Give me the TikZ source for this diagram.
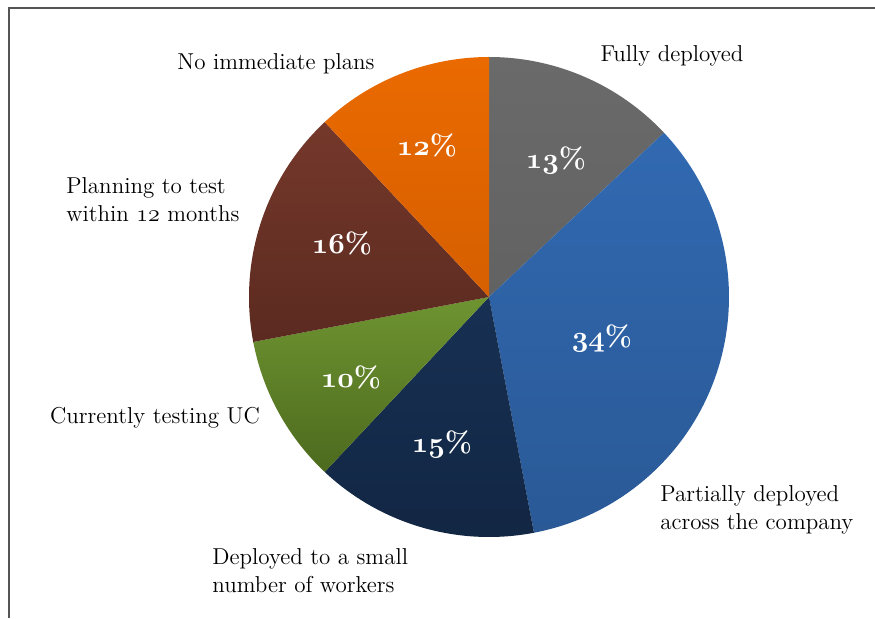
\documentclass[tikz,border=0pt]{standalone}
\definecolor{cgray}{HTML}{6A6A6A}
\definecolor{cgrayb}{HTML}{626262}
\definecolor{cblue}{HTML}{3169B1}
\definecolor{cblueb}{HTML}{2A5996}
\definecolor{cnavy}{HTML}{173053}
\definecolor{cnavyb}{HTML}{122643}
\definecolor{cgreen}{HTML}{6E9431}
\definecolor{cgreenb}{HTML}{4D6A1E}
\definecolor{cbrown}{HTML}{75382B}
\definecolor{cbrownb}{HTML}{5B2A20}
\definecolor{corange}{HTML}{EA6A00}
\definecolor{corangeb}{HTML}{D65F00}
\definecolor{cframe}{HTML}{555555}
\newcommand\osfb[1]{{\usefont{OML}{cmm}{b}{it}#1}}
\newcommand\osfm[1]{{\usefont{OML}{cmm}{m}{it}#1}}
\tikzset{
  pct/.style={text=white, font=\fontsize{14.5}{16}\selectfont\bfseries, inner sep=0pt},
  lbl/.style={text=black, font=\fontsize{11.5}{14}\selectfont, inner sep=0pt, align=left},
  slice/.style={draw=none}
}
\begin{document}
\begin{tikzpicture}[x=0.5pt,y=0.5pt]
\useasboundingbox (0,0) rectangle (875,618);
\fill[white] (0,0) rectangle (875,618);
\draw[cframe, line width=1pt] (875,610) -- (9,610) -- (9,0);
\coordinate (c) at (489,321);
% slices
\path[slice, top color=cgray, bottom color=cgrayb] (c) -- ++(90:120pt) arc[start angle=90, end angle=43.2, radius=120pt] -- cycle;
\path[slice, top color=cblue, bottom color=cblueb] (c) -- ++(43.2:120pt) arc[start angle=43.2, end angle=-79.2, radius=120pt] -- cycle;
\path[slice, top color=cnavy, bottom color=cnavyb] (c) -- ++(-79.2:120pt) arc[start angle=-79.2, end angle=-133.2, radius=120pt] -- cycle;
\path[slice, top color=cgreen, bottom color=cgreenb] (c) -- ++(-133.2:120pt) arc[start angle=-133.2, end angle=-169.2, radius=120pt] -- cycle;
\path[slice, top color=cbrown, bottom color=cbrownb] (c) -- ++(-169.2:120pt) arc[start angle=-169.2, end angle=-226.8, radius=120pt] -- cycle;
\path[slice, top color=corange, bottom color=corangeb] (c) -- ++(-226.8:120pt) arc[start angle=-226.8, end angle=-270, radius=120pt] -- cycle;
% percentages
\node[pct] (p12) at (427,473) {\osfb{12}\%};
\node[pct] (p13) at (556,458) {\osfb{13}\%};
\node[pct] (p34) at (602,280) {\osfb{34}\%};
\node[pct] (p15) at (442,174) {\osfb{15}\%};
\node[pct] (p10) at (351,241) {\osfb{10}\%};
\node[pct] (p16) at (342,375) {\osfb{16}\%};
% labels
\node[lbl] (lno) at (276,554) {No immediate plans};
\node[lbl] (lfully) at (672,562) {Fully deployed};
\node[lbl, anchor=west] (lplan) at (66,418) {Planning to test\\within \osfm{12} months};
\node[lbl] (lcur) at (155,200) {Currently testing UC};
\node[lbl, anchor=west] (lpart) at (660,108) {Partially deployed\\across the company};
\node[lbl, anchor=west] (ldep) at (212,47) {Deployed to a small\\number of workers};
\end{tikzpicture}
\end{document}
